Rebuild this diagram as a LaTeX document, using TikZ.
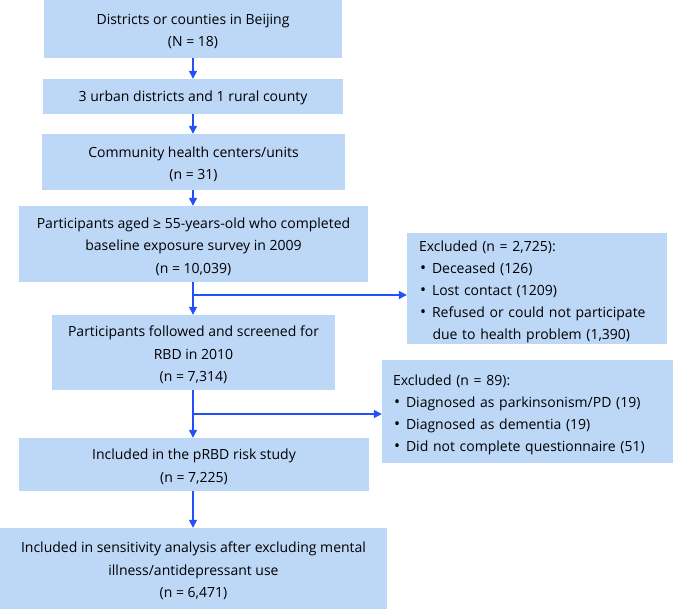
\documentclass[tikz,border=0pt]{standalone}
\usepackage{fontspec}
\setmainfont{Open Sans}
\usetikzlibrary{arrows.meta}
\definecolor{boxfill}{RGB}{189,215,247}
\definecolor{arrowblue}{RGB}{35,80,250}
\tikzset{
  boxshape/.style={fill=boxfill, draw=none, inner sep=0pt},
  centertext/.style={inner sep=0pt, align=center, yshift=-2.5pt,
    font=\fontsize{14}{22.5}\selectfont},
  lefttext/.style={inner sep=0pt, align=left, yshift=-3pt,
    font=\fontsize{14}{22}\selectfont},
  flowarrow/.style={draw=arrowblue, line width=1.3pt, -{Triangle[length=8pt,width=8pt]}}
}
\newcommand{\bul}{\hspace*{1pt}{\fontsize{16}{16}\selectfont\textbullet}\hspace{6pt}}
\newcommand{\cont}{\hspace*{13.5pt}}
\begin{document}
\begin{tikzpicture}[x=1pt,y=-1pt]
\useasboundingbox (0,0) rectangle (675,611);
\node[boxshape, minimum width=298pt, minimum height=58pt,
  label={[centertext]center:{Districts or counties in Beijing\\(N = 18)}}] (b1) at (193,29) {};
\node[boxshape, minimum width=300pt, minimum height=35pt,
  label={[centertext, yshift=1.5pt]center:{3 urban districts and 1 rural county}}] (b2) at (193,96.5) {};
\node[boxshape, minimum width=303pt, minimum height=56pt,
  label={[centertext]center:{Community health centers/units\\(n = 31)}}] (b3) at (193.5,162) {};
\node[boxshape, minimum width=349pt, minimum height=76pt,
  label={[centertext]center:{Participants aged ≥ 55-years-old who completed\\baseline exposure survey in 2009\\(n = 10,039)}}] (b4) at (193.5,244) {};
\node[boxshape, minimum width=283pt, minimum height=75pt,
  label={[centertext]center:{Participants followed and screened for\\RBD in 2010\\(n = 7,314)}}] (b5) at (193.5,352.5) {};
\node[boxshape, minimum width=350pt, minimum height=53pt,
  label={[centertext]center:{Included in the pRBD risk study\\(n = 7,225)}}] (b6) at (194,464.5) {};
\node[boxshape, minimum width=387pt, minimum height=81pt,
  label={[centertext]center:{Included in sensitivity analysis after excluding mental\\illness/antidepressant use\\(n = 6,471)}}] (b7) at (193.5,568.5) {};
\node[boxshape, minimum width=260pt, minimum height=111pt,
  label={[lefttext, text width=236pt]center:{Excluded (n = 2,725):\\
   \bul Deceased (126)\\
   \bul Lost contact (1209)\\
   \bul Refused or could not participate\\
   \cont due to health problem (1,390)}}] (e1) at (537,288.5) {};
\node[boxshape, minimum width=291pt, minimum height=103pt,
  label={[lefttext, text width=269pt]center:{Excluded (n = 89):\\
   \bul Diagnosed as parkinsonism/PD (19)\\
   \bul Diagnosed as dementia (19)\\
   \bul Did not complete questionnaire (51)}}] (e2) at (527.5,411.5) {};
\coordinate (j1) at (193,295);
\coordinate (j2) at (193,414);
\draw[flowarrow] (b1.south -| 193,0) -- (b2.north -| 193,0);
\draw[flowarrow] (b2.south -| 193,0) -- (b3.north -| 193,0);
\draw[flowarrow] (b3.south -| 193,0) -- (b4.north -| 193,0);
\draw[flowarrow] (b4.south -| 193,0) -- (b5.north -| 193,0);
\draw[flowarrow] (j1) -- (j1 -| e1.west);
\draw[flowarrow] (b5.south -| 193,0) -- (b6.north -| 193,0);
\draw[flowarrow] (j2) -- (j2 -| e2.west);
\draw[flowarrow] (b6.south -| 193,0) -- (b7.north -| 193,0);
\end{tikzpicture}
\end{document}
